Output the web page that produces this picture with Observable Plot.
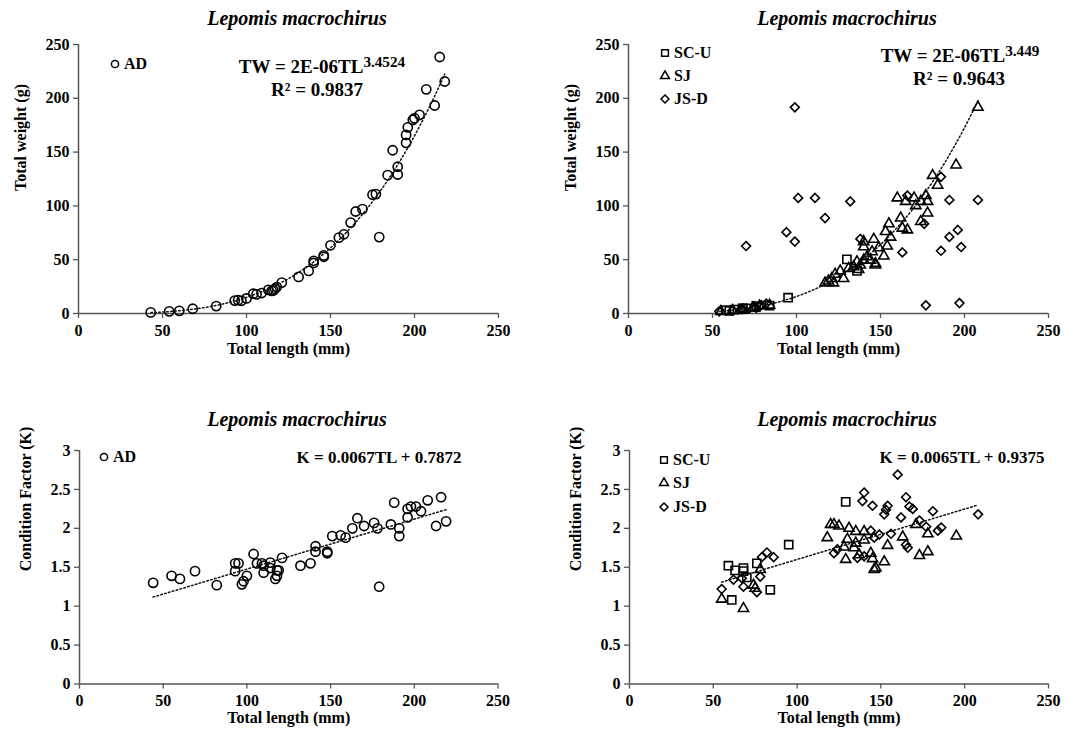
<!DOCTYPE html>
<html><head><meta charset="utf-8">
<script src="https://cdn.jsdelivr.net/npm/d3@7"></script>
<script src="https://cdn.jsdelivr.net/npm/@observablehq/plot@0.6"></script>
<style>
body{margin:0;background:#fff;}
#wrap{position:relative;width:1066px;height:741px;overflow:hidden;background:#fff;font-family:"Liberation Serif","Times New Roman",serif;color:#000;}
#wrap svg text{font-family:"Liberation Serif","Times New Roman",serif !important;font-weight:bold !important;}
.svgbox{position:absolute;}
.t{position:absolute;transform:translate(-50%,-50%);white-space:nowrap;line-height:1;font-weight:bold;}
.title{font-style:italic;font-size:20px;}
.eqw{font-size:19px;}
.eqk{font-size:17px;}
.eqw sup{font-size:0.8em;vertical-align:0.38em;line-height:0;}
.leg{position:absolute;transform:translateY(-50%);white-space:nowrap;line-height:1;font-weight:bold;font-size:16px;display:flex;align-items:center;gap:3px;}
.leg svg{display:block;}
</style>
</head><body>
<div id="wrap"></div>
<script>
// ---------- DATA ----------
// Panel A: total weight vs total length, AD
const adW_TL = [43,54,60,68,82,93,95,97,100,104,106,109,113,115,117,121,116,118,131,137,140,140,146,146,150,155,158,162,165,169,175,177,179,184,190,190,187,195,195,196,199,200,203,207,212,215,218];
const adW_TW = [1,2,2.5,4.4,6.9,12,12.4,11.8,14,18.4,17.8,19,22,21,23,28.7,21.5,24.6,34,39.6,47,49,52.7,54,63.4,70.5,73.6,84.5,94.8,97,110.4,111,71,128.6,129.2,136.4,151.7,158.6,166,173,180,181.5,184.6,208.3,193.3,238.4,215.6];
// Panel B: total weight vs total length by site
const scuW_TL = [58,60,63,68,68,70,76,84,95,130,136];
const scuW_TW = [3.2,2.4,3.7,4.7,4.5,4.8,6.9,7.3,14.7,50.3,39.6];
const sjW_TL = [55,62,68,74,75,78,84,117,208,195,181,184,160,165,170,171,174,177,178,178,174,162,155,153,156,163,166,146,140,140,149,154,152,145,142,140,147,147,136,134,131,126,128,123,121,119,122,138,137,144];
const sjW_TW = [1.9,2.8,3.0,5.2,5.2,6.9,7.7,28.4,191.6,138,128.3,119.2,107.4,104.2,107.4,100.2,104.2,109.6,104.2,93.3,85.5,88.7,83.3,76.1,70.9,79.3,77.7,69,66.8,62,61.1,62.7,53.4,57.4,52.7,49.6,46.5,45,48,43.4,41.9,39.6,32.5,36.5,32.5,30.2,28.4,45,40.9,49.6];
const jsdW_TL = [54,62,68,67,76,78,79,82,99,101,111,132,117,94,99,70,138,163,166,191,208,186,191,196,198,177,197,186,176];
const jsdW_TW = [2.0,3.1,3.9,4.1,5.1,6.5,7.9,9.2,191.6,107.4,107.4,104.2,88.7,75.6,66.8,62.7,69.3,56.8,109.6,105.5,105.5,58.3,71.2,77.7,61.8,7.6,9.7,127,83.3];
// fitted power trend shown for panel B (TW = a * TL^b)
const trendB = {a: 2e-6, b: 3.449};
// Panel C: condition factor vs total length, AD
const adK_TL = [44,55,60,69,82,93,95,93,100,98,97,104,106,109,110,114,114,110,119,118,117,121,118,132,138,141,141,148,148,151,156,159,163,166,170,176,178,179,186,188,191,191,196,196,198,201,204,208,216,213,219];
const adK_K = [1.3,1.39,1.35,1.45,1.27,1.55,1.55,1.45,1.39,1.32,1.28,1.67,1.55,1.55,1.52,1.56,1.49,1.43,1.46,1.39,1.35,1.62,1.46,1.52,1.55,1.77,1.7,1.7,1.68,1.9,1.91,1.88,2.0,2.13,2.03,2.07,2.0,1.25,2.05,2.33,2.0,1.9,2.14,2.25,2.28,2.28,2.22,2.36,2.4,2.03,2.09];
// Panel D: condition factor vs total length by site
const scuK_TL = [59,63,68,68,70,76,84,61,95,129];
const scuK_K = [1.52,1.46,1.49,1.45,1.37,1.55,1.21,1.08,1.79,2.34];
const sjK_TL = [55,68,74,75,78,118,120,122,125,131,135,140,130,135,140,128,134,129,137,144,145,152,147,146,154,163,171,178,173,178,195];
const sjK_K = [1.09,0.97,1.27,1.23,1.47,1.88,2.05,2.05,2.03,2.0,1.96,1.96,1.86,1.81,1.85,1.76,1.75,1.6,1.66,1.68,1.61,1.57,1.49,1.47,1.78,1.89,2.05,1.93,1.65,1.7,1.9];
const jsdK_TL = [55,62,68,67,76,78,79,82,86,122,124,136,140,160,140,139,145,154,153,152,165,167,169,162,181,208,186,184,173,177,156,144,146,149,165,166];
const jsdK_K = [1.22,1.34,1.25,1.36,1.18,1.38,1.63,1.69,1.63,1.68,1.73,1.62,1.64,2.69,2.46,2.35,2.29,2.29,2.24,2.18,2.4,2.28,2.25,2.14,2.22,2.18,2.01,1.97,2.1,2.02,1.93,1.97,1.88,1.92,1.79,1.75];

const xTicks = [0,50,100,150,200,250];
const wTicks = [0,50,100,150,200,250];
const kTicks = [0,0.5,1,1.5,2,2.5,3];
const titleText = "Lepomis macrochirus";
const xLabel = "Total length (mm)";
const wLabel = "Total weight (g)";
const kLabel = "Condition Factor (K)";
const eqA = ["TW = 2E-06TL", "3.4524", "R² = 0.9837"];
const eqB = ["TW = 2E-06TL", "3.449", "R² = 0.9643"];
const eqC = "K = 0.0067TL + 0.7872";
const eqD = "K = 0.0065TL + 0.9375";
const seriesNames = ["SC-U","SJ","JS-D"];
const adName = "AD";

// ---------- HELPERS ----------
const pts = (xs, ys) => xs.map((x,i)=>({x, y: ys[i]}));
function fitPower(data){
  const lx = data.map(d=>Math.log(d.x)), ly = data.map(d=>Math.log(d.y));
  const mx = d3.mean(lx), my = d3.mean(ly);
  const b = d3.sum(lx.map((v,i)=>(v-mx)*(ly[i]-my))) / d3.sum(lx.map(v=>(v-mx)**2));
  return {a: Math.exp(my - b*mx), b};
}
function powerCurve(data, coef){
  const {a, b} = coef || fitPower(data);
  const [x0,x1] = d3.extent(data, d=>d.x);
  const xs = d3.range(x0, x1, 1).concat([x1]);
  return xs.map(x=>({x, y: a*Math.pow(x,b)}));
}
const wrap = document.getElementById("wrap");
const SYM = {"SC-U":"square","SJ":"triangle","JS-D":"diamond2","AD":"circle"};
const dotStyle = {stroke:"#000", strokeWidth:1.6, fill:"none"};
const lineStyle = {stroke:"#111", strokeWidth:1.5, strokeDasharray:"1.6,2.4"};
const FONT = "'Liberation Serif','Times New Roman',serif";

function panel({left, top, width, height, mL, mR, mT, mB, yDomain, yTicks, yLabel, yLabelDx, yLabelDy, xLabelDy, series, fit, coef}){
  const all = series.flatMap(s=>s.data);
  const marks = [
    Plot.axisX({ticks:xTicks, tickSize:5, tickPadding:6, stroke:"#555", strokeWidth:1.3, label:null, tickFormat:d=>String(d), fontFamily:FONT, fontWeight:"bold", fontSize:16}),
    Plot.axisY({ticks:yTicks, tickSize:5, tickPadding:4, stroke:"#555", strokeWidth:1.3, label:null, tickFormat:d=>String(d), fontFamily:FONT, fontWeight:"bold", fontSize:16}),
    Plot.ruleX([0], {stroke:"#555", strokeWidth:1.5}),
    Plot.ruleY([0], {stroke:"#555", strokeWidth:1.5}),
    Plot.text([xLabel], {text:d=>d, frameAnchor:"bottom", dy:xLabelDy, fontSize:16, fontWeight:"bold", fontFamily:FONT}),
    Plot.text([yLabel], {text:d=>d, frameAnchor:"left", dx:yLabelDx, dy:yLabelDy, rotate:-90, fontSize:16, fontWeight:"bold", fontFamily:FONT})
  ];
  for (const s of series) marks.push(Plot.dot(s.data, {x:"x", y:"y", r:s.r, symbol:()=>SYM[s.name], ...dotStyle}));
  if (fit === "power") marks.push(Plot.line(powerCurve(all, coef), {x:"x", y:"y", curve:"linear", ...lineStyle}));
  else marks.push(Plot.linearRegressionY(all, {x:"x", y:"y", ci:0, ...lineStyle}));
  const svg = Plot.plot({
    width, height, marginLeft:mL, marginRight:mR, marginTop:mT, marginBottom:mB,
    style:{fontFamily:FONT, fontSize:"16px", fontWeight:"bold", background:"transparent", color:"#000", overflow:"visible"},
    x:{domain:[0,250]}, y:{domain:yDomain},
    symbol:{type:"identity"},
    marks
  });
  const box = document.createElement("div");
  box.className = "svgbox"; box.style.left = left+"px"; box.style.top = top+"px";
  box.appendChild(svg); wrap.appendChild(box);
}

function addText(html, cls, cx, cy){
  const d = document.createElement("div"); d.className = "t "+cls; d.innerHTML = html;
  d.style.left = cx+"px"; d.style.top = cy+"px"; wrap.appendChild(d);
}
function symSvg(name){
  const size = 12;
  const map = {"circle":d3.symbolCircle, "square":d3.symbolSquare, "triangle":d3.symbolTriangle, "diamond2":d3.symbolDiamond2};
  const rr = {"circle":3.6, "square":3.8, "triangle":3.3, "diamond2":3.6}[SYM[name]];
  const path = d3.symbol(map[SYM[name]], Math.PI*rr*rr)();
  return `<svg width="${size}" height="${size}" viewBox="${-size/2} ${-size/2} ${size} ${size}"><path d="${path}" fill="none" stroke="#000" stroke-width="1.5"/></svg>`;
}
function addLegend(name, sx, cy){
  const d = document.createElement("div"); d.className = "leg";
  d.innerHTML = symSvg(name) + `<span>${name}</span>`;
  d.style.left = (sx-6)+"px"; d.style.top = cy+"px"; wrap.appendChild(d);
}

// ---------- PANELS ----------
panel({left:0, top:0, width:533, height:370, mL:78, mR:35, mT:44, mB:57,
  yDomain:[0,250], yTicks:wTicks, yLabel:wLabel, yLabelDx:-58, yLabelDy:12, xLabelDy:40,
  series:[{name:adName, r:4.6, data:pts(adW_TL, adW_TW)}], fit:"power"});
panel({left:533, top:0, width:533, height:370, mL:95, mR:18, mT:44, mB:57,
  yDomain:[0,250], yTicks:wTicks, yLabel:wLabel, yLabelDx:-58, yLabelDy:12, xLabelDy:40,
  series:[{name:"SC-U", r:4.6, data:pts(scuW_TL, scuW_TW)},{name:"SJ", r:3.8, data:pts(sjW_TL, sjW_TW)},{name:"JS-D", r:4.0, data:pts(jsdW_TL, jsdW_TW)}], fit:"power", coef:trendB});
panel({left:0, top:370, width:533, height:371, mL:79, mR:35.5, mT:80, mB:57.5,
  yDomain:[0,3], yTicks:kTicks, yLabel:kLabel, yLabelDx:-54, yLabelDy:4, xLabelDy:39,
  series:[{name:adName, r:4.6, data:pts(adK_TL, adK_K)}], fit:"linear"});
panel({left:533, top:370, width:533, height:371, mL:96, mR:18, mT:80, mB:57.5,
  yDomain:[0,3], yTicks:kTicks, yLabel:kLabel, yLabelDx:-54, yLabelDy:4, xLabelDy:39,
  series:[{name:"SC-U", r:4.6, data:pts(scuK_TL, scuK_K)},{name:"SJ", r:3.8, data:pts(sjK_TL, sjK_K)},{name:"JS-D", r:4.0, data:pts(jsdK_TL, jsdK_K)}], fit:"linear"});

// titles
addText(titleText, "title", 297, 18);
addText(titleText, "title", 847, 18);
addText(titleText, "title", 297, 419);
addText(titleText, "title", 847, 419);
// equations
addText(`${eqA[0]}<sup>${eqA[1]}</sup>`, "eqw", 322, 66);
addText(eqA[2], "eqw", 317, 89);
addText(`${eqB[0]}<sup>${eqB[1]}</sup>`, "eqw", 960, 55);
addText(eqB[2], "eqw", 959, 78);
addText(eqC, "eqk", 379, 457);
addText(eqD, "eqk", 962, 457);
// legends
addLegend(adName, 115, 64);
addLegend(seriesNames[0], 665, 53);
addLegend(seriesNames[1], 665, 76);
addLegend(seriesNames[2], 665, 99);
addLegend(adName, 104, 457);
addLegend(seriesNames[0], 664, 460);
addLegend(seriesNames[1], 664, 483);
addLegend(seriesNames[2], 664, 507);
</script>
</body></html>
